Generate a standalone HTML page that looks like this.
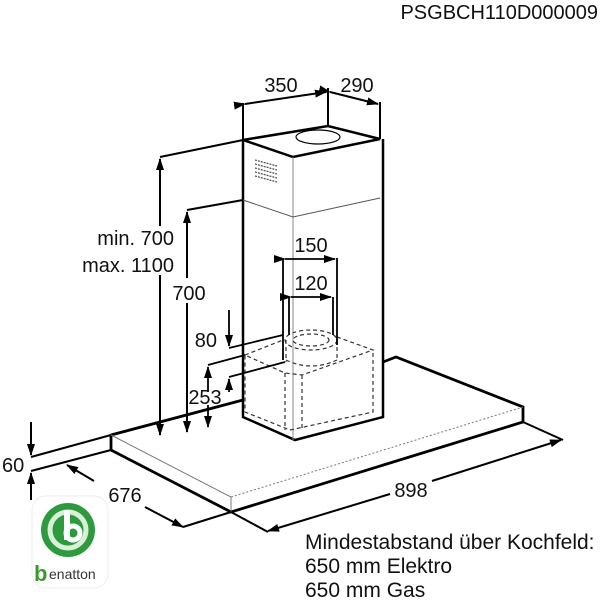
<!DOCTYPE html>
<html><head><meta charset="utf-8"><style>
html,body{margin:0;padding:0;background:#fff;width:600px;height:600px;overflow:hidden}
text{font-family:"Liberation Sans",Arial,sans-serif;fill:#111}
</style></head><body>
<svg width="600" height="600" viewBox="0 0 600 600" xmlns="http://www.w3.org/2000/svg">
<defs>
<marker id="a" markerWidth="12" markerHeight="8" refX="11" refY="4" orient="auto" markerUnits="userSpaceOnUse">
<path d="M0,0 L12,4 L0,8 Z" fill="#000"/></marker>
</defs>
<text x="598" y="19" font-size="20" text-anchor="end">PSGBCH110D000009</text>

<g stroke="#000" fill="none">
<path d="M243,140 L328,126 L380,139 L293,157 Z" stroke-width="2.5"/>
<path d="M243,140 L243,417 L295,440 L383,417 L383,139" stroke-width="2.5"/>
<path d="M293,157 L293,440" stroke="#888" stroke-width="1"/>
<path d="M243,200 L293,217 L380,198" stroke="#555" stroke-width="1"/>
<ellipse cx="318" cy="137" rx="22" ry="7" stroke-width="1.2"/>
<g stroke="#555" stroke-width="1.3" stroke-dasharray="2,1">
<path d="M255,160 l22,6 M255,164 l22,6 M255,168 l22,6 M255,172 l22,6 M255,176 l22,6"/>
</g>
<path d="M243,140 V103 M328,126 V88 M380,139 V102" stroke-width="2"/>
<path d="M245,104 L326,92" stroke-width="2" marker-start="url(#a)" marker-end="url(#a)"/>
<path d="M330,92 L378,104" stroke-width="2" marker-start="url(#a)" marker-end="url(#a)"/>

<path d="M111,435 L243,400 M383,362 L396,357 L523,407 L523,422 L231,512 L111,450 L111,435" stroke-width="2.8"/>
<path d="M111,435 L231,497 L231,512" stroke="#777" stroke-width="1"/>
<path d="M231,497 L523,407" stroke="#777" stroke-width="1" stroke-dasharray="2,2"/>

<g stroke="#333" stroke-width="1.2" stroke-dasharray="4,3">
<path d="M245,355 L283,340 M337,337 L373,350 L302,375 L285,373 L245,355 V412 L290,430 L373,412 V350"/>
<path d="M285,373 V430 M302,375 V430"/>
<ellipse cx="311" cy="340" rx="26" ry="10"/>
<ellipse cx="311" cy="340" rx="18" ry="6"/>
<path d="M286,340 V362 M337,340 V360"/>
<path d="M286,360 Q311,372 337,360"/>
</g>
<path d="M283,258 V360 M337,258 V345 M289,297 V335 M333,297 V335" stroke-width="1.8"/>
<path d="M285,259 L335,259" stroke-width="1.8" marker-start="url(#a)" marker-end="url(#a)"/>
<path d="M291,297 L331,297" stroke-width="1.8" marker-start="url(#a)" marker-end="url(#a)"/>

<path d="M160,157 L243,140 M187,210 L243,200" stroke-width="2"/>
<path d="M160,226 V159" stroke-width="2" marker-end="url(#a)"/>
<path d="M160,275 V435" stroke-width="2" marker-end="url(#a)"/>
<path d="M187,278 V212" stroke-width="2" marker-end="url(#a)"/>
<path d="M187,303 V432" stroke-width="2" marker-end="url(#a)"/>
<path d="M229,310 V346" stroke-width="1.8" marker-end="url(#a)"/>
<path d="M229,348 L283,335 M208,365 L245,355 M229,377 L285,362" stroke-width="1.8"/>
<path d="M208,392 V367" stroke-width="1.8" marker-end="url(#a)"/>
<path d="M208,405 V427" stroke-width="1.8" marker-end="url(#a)"/>
<path d="M229,392 V379" stroke-width="1.8" marker-end="url(#a)"/>

<path d="M31,457 L111,435 M31,471 L111,450" stroke-width="2"/>
<path d="M31,422 V455" stroke-width="2" marker-end="url(#a)"/>
<path d="M31,500 V473" stroke-width="2" marker-end="url(#a)"/>
<path d="M94,481 L67,465" stroke-width="2" marker-end="url(#a)"/>
<path d="M145,507 L183,527" stroke-width="2" marker-end="url(#a)"/>
<path d="M183,527 L231,512" stroke-width="2"/>
<path d="M231,512 L268,532 M523,422 L563,440" stroke-width="2"/>
<path d="M390,494 L268,531" stroke-width="2" marker-end="url(#a)"/>
<path d="M432,481 L561,440" stroke-width="2" marker-end="url(#a)"/>
</g>

<g font-size="20">
<text x="281" y="92" text-anchor="middle">350</text>
<text x="357" y="92" text-anchor="middle">290</text>
<text x="174" y="245" text-anchor="end">min. 700</text>
<text x="174" y="272" text-anchor="end">max. 1100</text>
<text x="189" y="300" text-anchor="middle">700</text>
<text x="311" y="252" text-anchor="middle">150</text>
<text x="311" y="290" text-anchor="middle">120</text>
<text x="217" y="347" text-anchor="end">80</text>
<text x="205" y="404" text-anchor="middle">253</text>
<text x="2" y="472">60</text>
<text x="125" y="502" text-anchor="middle">676</text>
<text x="411" y="497" text-anchor="middle">898</text>
</g>
<g font-size="21">
<text x="305" y="549">Mindestabstand über Kochfeld:</text>
<text x="305" y="573">650 mm Elektro</text>
<text x="305" y="597">650 mm Gas</text>
</g>

<rect x="32" y="496" width="76" height="92" rx="14" fill="#fff" stroke="#eee"/>
<circle cx="68" cy="530" r="27" fill="#2e9a3e"/>
<circle cx="68" cy="530" r="18" fill="none" stroke="#d8efd8" stroke-width="5"/>
<rect x="64" y="510" width="6" height="30" fill="#fff"/>
<circle cx="73" cy="533" r="7" fill="none" stroke="#fff" stroke-width="5"/>
<text x="34" y="581" font-size="22" font-weight="bold" style="fill:#3a9a2a">b</text>
<text x="49" y="579" font-size="14" style="fill:#333">enatton</text>
</svg>
</body></html>
